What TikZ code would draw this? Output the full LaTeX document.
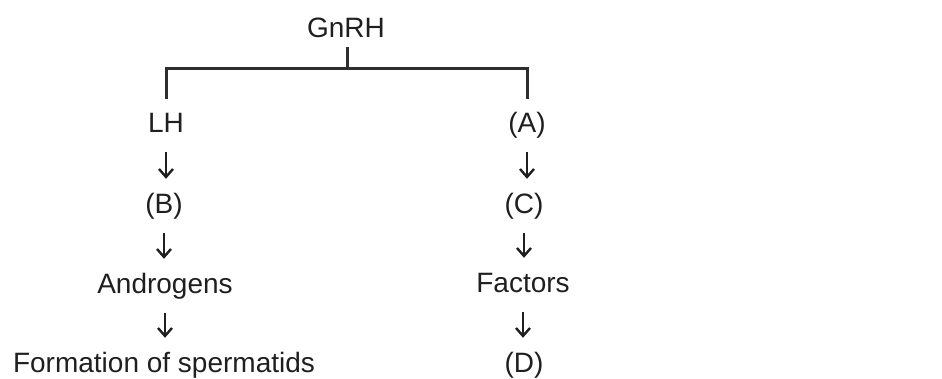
\documentclass[tikz,border=0pt]{standalone}
\usepackage{fontspec}
\setmainfont{Liberation Sans}
\usetikzlibrary{arrows.meta}

\begin{document}
\begin{tikzpicture}[x=1pt, y=-1pt,
  term/.style={font=\fontsize{28}{33}\selectfont, text=black!88, inner sep=0pt,
    text height=20pt, text depth=0pt, anchor=base},
  branch/.style={line width=3pt, draw=black!82},
  flow/.style={line width=2.4pt, draw=black!88, -{Straight Barb[length=8pt, width=14pt, line width=2.4pt]},
    shorten <=20pt, shorten >=14pt}]
\useasboundingbox (0,0) rectangle (942,378);
\node[term] (gnrh) at (346,37) {GnRH};
\node[term] (lh) at (166,132) {LH};
\node[term] (a) at (527,132) {(A)};
\node[term] (b) at (164,213) {(B)};
\node[term] (c) at (524,213) {(C)};
\node[term] (andro) at (165,293) {Androgens};
\node[term] (fact) at (523,292) {Factors};
\node[term] (sperm) at (164,372) {Formation of spermatids};
\node[term] (d) at (524,372) {(D)};
% bracket from GnRH
\coordinate (fork) at (347,68);
\draw[branch] ([yshift=-10pt]gnrh.south -| fork) -- (fork);
\draw[branch] ([yshift=13pt]lh.north) |- (fork) -| ([yshift=13pt]a.north);
% downward arrows
\foreach \from/\to in {lh/b, b/andro, andro/sperm, a/c, c/fact, fact/d}
  \draw[flow] (\from.south) -- (\from.south |- \to.north);
\end{tikzpicture}
\end{document}
